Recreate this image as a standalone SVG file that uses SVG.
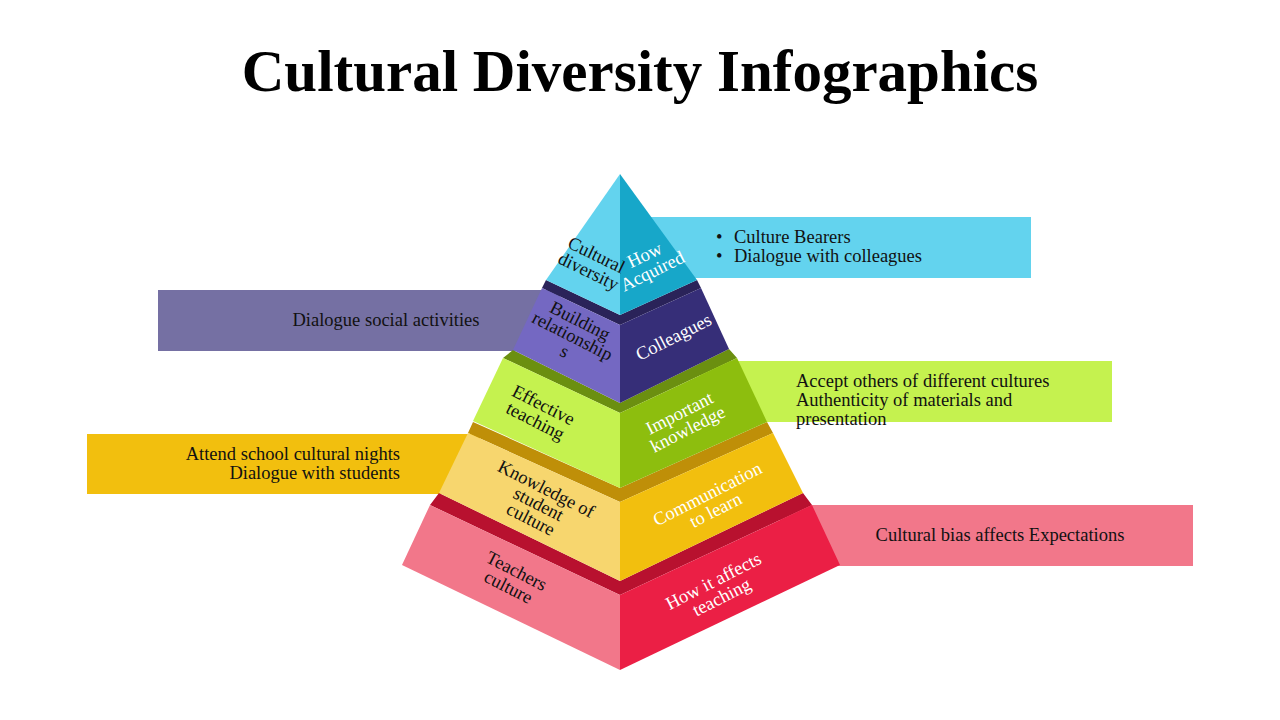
<svg xmlns="http://www.w3.org/2000/svg" width="1280" height="720" viewBox="0 0 1280 720">
<style>
text{font-family:"Liberation Serif","DejaVu Serif",serif;font-size:18.5px;fill:#111}
.title{font-size:59px;font-weight:bold;fill:#000}
.w{fill:#fff}
.c{text-anchor:middle}
.r{text-anchor:end}
</style>
<rect width="1280" height="720" fill="#fff"/>
<text class="title c" x="640" y="91">Cultural Diversity Infographics</text>

<g id="box-cyan">
<rect x="640" y="217" width="391" height="61" fill="#63D3EE"/>
<text x="716" y="243">•</text><text x="734" y="243">Culture Bearers</text>
<text x="716" y="262">•</text><text x="734" y="262">Dialogue with colleagues</text>
</g>
<g id="box-purple">
<rect x="158" y="290" width="402" height="61" fill="#7570A3"/>
<text class="c" x="386" y="326">Dialogue social activities</text>
</g>
<g id="box-green">
<rect x="700" y="361" width="412" height="61" fill="#C5F24F"/>
<text x="796" y="387">Accept others of different cultures</text>
<text x="796" y="406">Authenticity of materials and</text>
<text x="796" y="425">presentation</text>
</g>
<g id="box-yellow">
<rect x="87" y="434" width="393" height="60" fill="#F2BF0E"/>
<text class="r" x="400" y="460">Attend school cultural nights</text>
<text class="r" x="400" y="479">Dialogue with students</text>
</g>
<g id="box-pink">
<rect x="780" y="505" width="413" height="61" fill="#F2778A"/>
<text class="c" x="1000" y="541">Cultural bias affects Expectations</text>
</g>

<g id="layer-red">
<polygon points="439,493 620,581 803,493 812,505 620,595 430,505" fill="#B8112F"/>
<polygon points="430,505 620,595 620,670 402,565" fill="#F2778A"/>
<polygon points="620,595 812,505 840,565 620,670" fill="#EB1F45"/>
<g transform="translate(512,580) rotate(27)"><text class="c" y="-4">Teachers</text><text class="c" y="14">culture</text></g>
<g transform="translate(718,590) rotate(-27)"><text class="c w" y="-4">How it affects</text><text class="c w" y="14">teaching</text></g>
</g>

<g id="layer-yellow">
<polygon points="473,422 620,488 767,422 773,433 620,502 468,433" fill="#BF8F08"/>
<polygon points="468,433 620,502 620,581 439,493" fill="#F7D66E"/>
<polygon points="620,502 773,433 803,493 620,581" fill="#F2BF0E"/>
<g transform="translate(538,505) rotate(27)"><text class="c" y="-12">Knowledge of</text><text class="c" y="5">student</text><text class="c" y="22">culture</text></g>
<g transform="translate(712,503) rotate(-27)"><text class="c w" y="-4">Communication</text><text class="c w" y="14">to learn</text></g>
</g>

<g id="layer-green">
<polygon points="513,350 620,403 729,349 737,358 620,413 503,358" fill="#6B8F10"/>
<polygon points="503,358 620,413 620,488 473,421" fill="#C5F24F"/>
<polygon points="620,413 737,358 767,422 620,488" fill="#8DBE0E"/>
<g transform="translate(539,414) rotate(27)"><text class="c" y="-4">Effective</text><text class="c" y="14">teaching</text></g>
<g transform="translate(684,422) rotate(-27)"><text class="c w" y="-4">Important</text><text class="c w" y="14">knowledge</text></g>
</g>

<g id="layer-purple">
<polygon points="546,280 620,315 697,280 701,288 620,325 542,288" fill="#2A2359"/>
<polygon points="542,288 620,325 620,403 513,350" fill="#7468C2"/>
<polygon points="620,325 701,288 729,349 620,403" fill="#362E78"/>
<g transform="translate(572,337) rotate(27)"><text class="c" y="-12">Building</text><text class="c" y="5">relationship</text><text class="c" y="22">s</text></g>
<g transform="translate(674,338) rotate(-27)"><text class="c w" y="5">Colleagues</text></g>
</g>

<g id="layer-cyan">
<polygon points="620,174 546,280 620,315" fill="#63D3EE"/>
<polygon points="620,174 697,280 620,315" fill="#17A7C9"/>
<g transform="translate(592,264) rotate(26)"><text class="c" y="-4">Cultural</text><text class="c" y="14">diversity</text></g>
<g transform="translate(649,264) rotate(-26)"><text class="c w" y="-4">How</text><text class="c w" y="14">Acquired</text></g>
</g>
</svg>
